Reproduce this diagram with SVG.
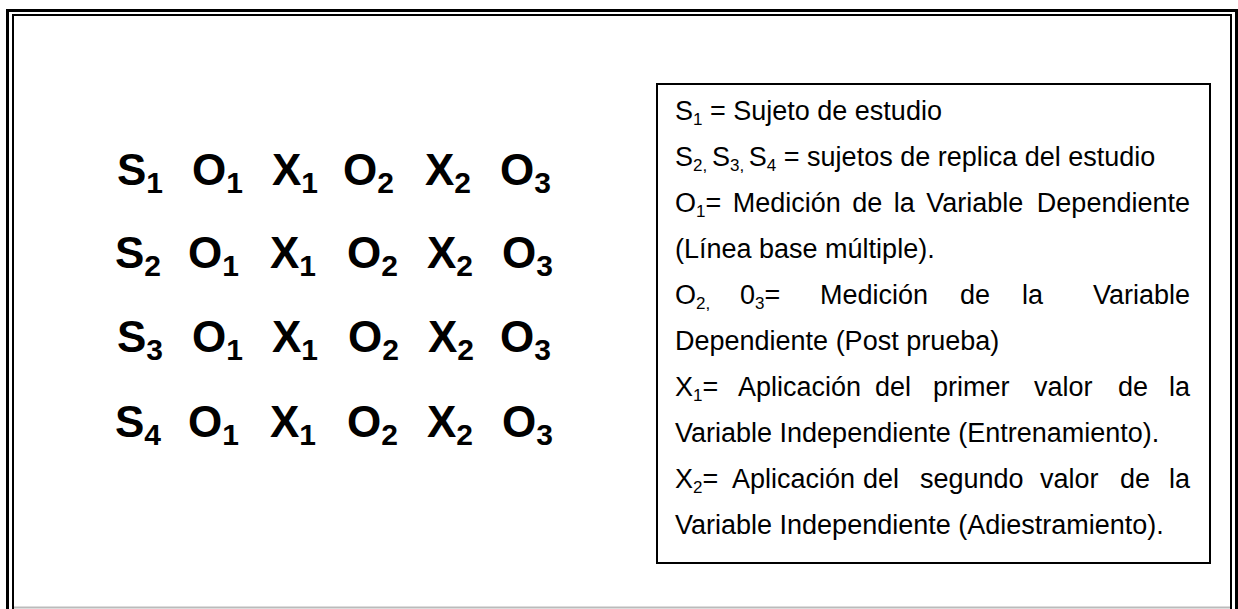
<svg xmlns="http://www.w3.org/2000/svg" width="1238" height="609" viewBox="0 0 1238 609">
<style>
.big{font-family:"Liberation Sans",Arial,sans-serif;font-weight:bold;font-size:44px;fill:#000}
.bs{font-size:30px}
.lg{font-family:"Liberation Sans",Arial,sans-serif;font-size:27px;fill:#000}
.s{font-size:17px}
.frame{fill:none;stroke:#000}
</style>
<rect width="1238" height="609" fill="#fff"/>
<g id="frame">
<path class="frame" stroke-width="3" d="M7.5,609 V10.5 H1236.5 V609"/>
<path class="frame" stroke-width="2" d="M13,609 V15 H1231 V609"/>
<line x1="14" y1="607.5" x2="1230" y2="607.5" stroke="#bbb" stroke-width="2"/>
</g>
<g id="row1" class="big">
<text x="117" y="185">S<tspan class="bs" dy="8">1</tspan></text>
<text x="192" y="185">O<tspan class="bs" dy="8">1</tspan></text>
<text x="272" y="185">X<tspan class="bs" dy="8">1</tspan></text>
<text x="343" y="185">O<tspan class="bs" dy="8">2</tspan></text>
<text x="425" y="185">X<tspan class="bs" dy="8">2</tspan></text>
<text x="500" y="185">O<tspan class="bs" dy="8">3</tspan></text>
</g>
<g id="row2" class="big">
<text x="115" y="268">S<tspan class="bs" dy="8">2</tspan></text>
<text x="188" y="268">O<tspan class="bs" dy="8">1</tspan></text>
<text x="270" y="268">X<tspan class="bs" dy="8">1</tspan></text>
<text x="347" y="268">O<tspan class="bs" dy="8">2</tspan></text>
<text x="427" y="268">X<tspan class="bs" dy="8">2</tspan></text>
<text x="502" y="268">O<tspan class="bs" dy="8">3</tspan></text>
</g>
<g id="row3" class="big">
<text x="117" y="352">S<tspan class="bs" dy="8">3</tspan></text>
<text x="192" y="352">O<tspan class="bs" dy="8">1</tspan></text>
<text x="272" y="352">X<tspan class="bs" dy="8">1</tspan></text>
<text x="348" y="352">O<tspan class="bs" dy="8">2</tspan></text>
<text x="428" y="352">X<tspan class="bs" dy="8">2</tspan></text>
<text x="500" y="352">O<tspan class="bs" dy="8">3</tspan></text>
</g>
<g id="row4" class="big">
<text x="115" y="437">S<tspan class="bs" dy="8">4</tspan></text>
<text x="188" y="437">O<tspan class="bs" dy="8">1</tspan></text>
<text x="270" y="437">X<tspan class="bs" dy="8">1</tspan></text>
<text x="347" y="437">O<tspan class="bs" dy="8">2</tspan></text>
<text x="427" y="437">X<tspan class="bs" dy="8">2</tspan></text>
<text x="502" y="437">O<tspan class="bs" dy="8">3</tspan></text>
</g>
<g id="legend" class="lg">
<rect x="657" y="84" width="553" height="479" fill="none" stroke="#000" stroke-width="2"/>
<text x="675" y="120">S<tspan class="s" dy="5">1</tspan><tspan dy="-5"> = Sujeto de estudio</tspan></text>
<text x="675" y="166">S<tspan class="s" dy="5">2, </tspan><tspan dy="-5">S</tspan><tspan class="s" dy="5">3, </tspan><tspan dy="-5">S</tspan><tspan class="s" dy="5">4</tspan><tspan dy="-5"> = sujetos de replica del estudio</tspan></text>
<text y="212"><tspan x="675">O</tspan><tspan class="s" dy="5">1</tspan><tspan dy="-5">=</tspan><tspan x="732.7">Medición</tspan><tspan x="852.2">de</tspan><tspan x="893.7">la</tspan><tspan x="926.2">Variable</tspan></text>
<text x="1190" y="212" text-anchor="end">Dependiente</text>
<text x="675" y="258">(Línea base múltiple).</text>
<text y="304"><tspan x="675">O</tspan><tspan class="s" dy="5">2,</tspan><tspan dy="-5" x="740">0</tspan><tspan class="s" dy="5">3</tspan><tspan dy="-5">=</tspan><tspan x="820">Medición</tspan><tspan x="960">de</tspan><tspan x="1022">la</tspan></text>
<text x="1190" y="304" text-anchor="end">Variable</text>
<text x="675" y="350">Dependiente (Post prueba)</text>
<text y="396"><tspan x="675">X</tspan><tspan class="s" dy="5">1</tspan><tspan dy="-5">=</tspan><tspan x="738">Aplicación</tspan><tspan x="875">del</tspan><tspan x="933">primer</tspan><tspan x="1034">valor</tspan><tspan x="1118">de</tspan></text>
<text x="1190" y="396" text-anchor="end">la</text>
<text x="675" y="442">Variable Independiente (Entrenamiento).</text>
<text y="488"><tspan x="675">X</tspan><tspan class="s" dy="5">2</tspan><tspan dy="-5">=</tspan><tspan x="732">Aplicación</tspan><tspan x="863">del</tspan><tspan x="920">segundo</tspan><tspan x="1040">valor</tspan><tspan x="1120">de</tspan></text>
<text x="1190" y="488" text-anchor="end">la</text>
<text x="675" y="534">Variable Independiente (Adiestramiento).</text>
</g>
</svg>
